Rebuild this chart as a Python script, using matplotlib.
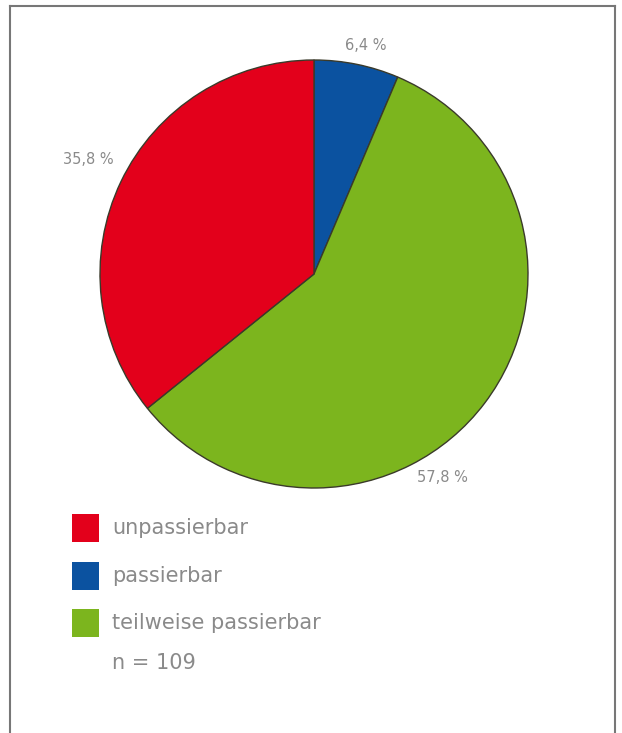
import matplotlib.pyplot as plt
from matplotlib.patches import Rectangle

# data: n = 109
categories = ['passierbar', 'teilweise passierbar', 'unpassierbar']
shares = [6.4, 57.8, 35.8]
colors = ['#0b52a0', '#7cb51e', '#e3001b']
pct_labels = ['6,4 %', '57,8 %', '35,8 %']
legend_order = ['unpassierbar', 'passierbar', 'teilweise passierbar']
n_text = 'n = 109'

W, H = 622, 733
fig = plt.figure(figsize=(W / 100, H / 100), dpi=100)
ax = fig.add_axes([0, 0, 1, 1])

cx, cy, r = 314, H - 274, 214
wedges, _ = ax.pie(shares, colors=colors, startangle=90, counterclock=False,
                   center=(cx, cy), radius=r, frame=True,
                   wedgeprops=dict(edgecolor='#3a3a2a', linewidth=1.0))
ax.set_xlim(0, W)
ax.set_ylim(0, H)
ax.set_aspect('equal')
ax.axis('off')

txt_color = '#8a8a8a'
label_pos = [(366, 45), (442, 478), (88, 160)]
for lab, (x, y) in zip(pct_labels, label_pos):
    ax.text(x, H - y, lab, ha='center', va='center', fontsize=10.5, color=txt_color)

# legend drawn by hand
col_of = dict(zip(categories, colors))
for i, name in enumerate(legend_order):
    y = 528 + i * 47.5
    ax.add_patch(Rectangle((72, H - y - 14), 27, 28, facecolor=col_of[name],
                           edgecolor='none'))
    ax.text(112, H - y, name, ha='left', va='center', fontsize=15, color=txt_color)
ax.text(112, H - 663, n_text, ha='left', va='center', fontsize=15, color=txt_color)

# frame (open at the bottom)
fc = '#777777'
ax.plot([10, 10], [0, H - 6], color=fc, lw=1.5)
ax.plot([10, 615], [H - 6, H - 6], color=fc, lw=1.5)
ax.plot([615, 615], [H - 6, 0], color=fc, lw=1.5)

fig.savefig('out.png', dpi=100)
